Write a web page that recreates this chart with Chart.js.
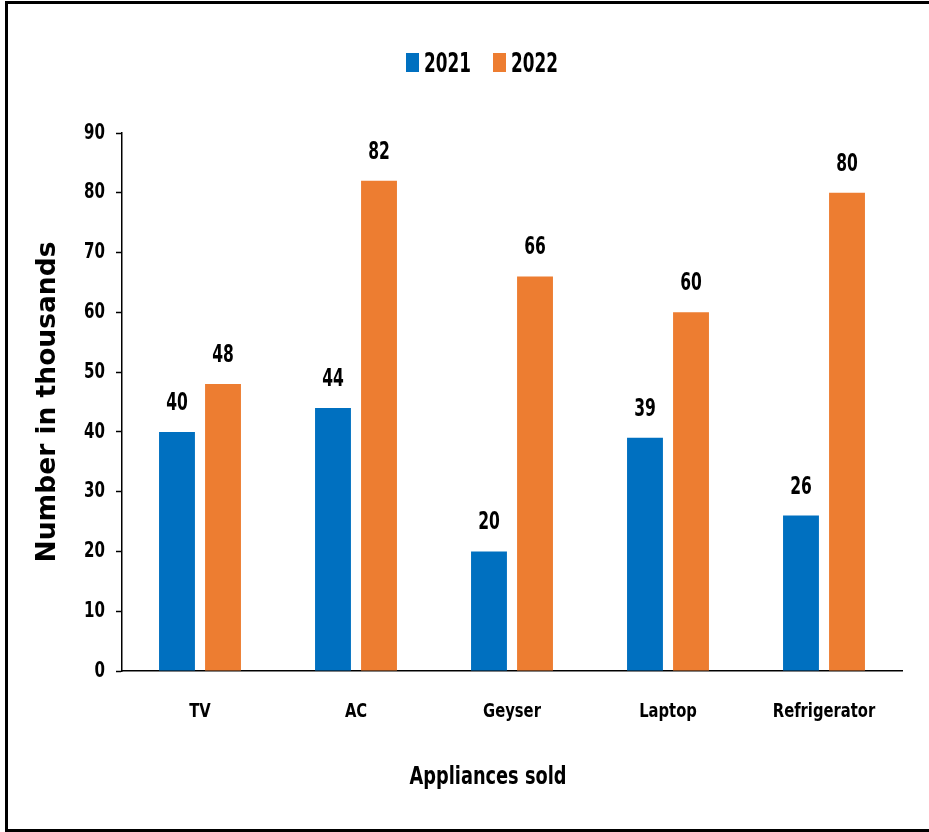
<!DOCTYPE html>
<html>
<head>
<meta charset="utf-8">
<script src="https://cdn.jsdelivr.net/npm/chart.js@4.4.0/dist/chart.umd.min.js"></script>
<style>
  html, body { margin: 0; padding: 0; background: #fff; }
  #wrap { position: absolute; left: 0; top: 0; width: 929px; height: 832px; }
  #frame { position: absolute; left: 5px; top: 1px; width: 940px; height: 825px; border: 3px solid #000; box-sizing: content-box; pointer-events: none; }
  canvas { position: absolute; left: 0; top: 0; }
</style>
</head>
<body>
<div id="wrap">
  <canvas id="c" width="929" height="832"></canvas>
  <div id="frame"></div>
</div>
<script>
const categories = ["TV", "AC", "Geyser", "Laptop", "Refrigerator"];
const seriesNames = ["2021", "2022"];
const values2021 = [40, 44, 20, 39, 26];
const values2022 = [48, 82, 66, 60, 80];
const yTicks = [0, 10, 20, 30, 40, 50, 60, 70, 80, 90];
const xTitle = "Appliances sold";
const yTitle = "Number in thousands";

const NARROW = "'Liberation Sans Narrow', 'DejaVu Sans Condensed', 'Arial Narrow', sans-serif";
const BLUE = "#0070C0";
const ORANGE = "#ED7D31";

// draw horizontally condensed text (Calibri-like look)
function condText(ctx, text, x, y, size, align, sx, baseline) {
  ctx.save();
  ctx.translate(x, y);
  ctx.scale(sx, 1);
  ctx.font = "bold " + size + "px " + NARROW;
  ctx.fillStyle = "#000";
  ctx.textAlign = align;
  ctx.textBaseline = baseline || "alphabetic";
  ctx.fillText(text, 0, 0);
  ctx.restore();
}

const textPlugin = {
  id: 'textPlugin',
  afterDraw(chart) {
    const ctx = chart.ctx;
    const xs = chart.scales.x, ys = chart.scales.y;
    // y tick labels
    yTicks.forEach(v => {
      condText(ctx, String(v), 105, ys.getPixelForValue(v), 22, 'right', 0.76, 'middle');
    });
    // x category labels
    categories.forEach((c, i) => {
      condText(ctx, c, xs.getPixelForValue(i), 717, 20, 'center', 0.82);
    });
    // x title
    condText(ctx, xTitle, 488, 784, 25, 'center', 0.79);
    // data labels
    chart.data.datasets.forEach((ds, i) => {
      chart.getDatasetMeta(i).data.forEach((bar, j) => {
        condText(ctx, String(ds.data[j]), bar.x, bar.y - 22, 24, 'center', 0.72);
      });
    });
    // legend
    const colors = [BLUE, ORANGE];
    const starts = [406, 493];
    seriesNames.forEach((name, i) => {
      ctx.save();
      ctx.fillStyle = colors[i];
      ctx.fillRect(starts[i], 53, 13, 19);
      ctx.restore();
      condText(ctx, name, starts[i] + 18, 72, 26, 'left', 0.72);
    });
  }
};

new Chart(document.getElementById('c'), {
  type: 'bar',
  data: {
    labels: categories,
    datasets: [
      { label: seriesNames[0], data: values2021, backgroundColor: BLUE, categoryPercentage: 0.59, barPercentage: 0.78 },
      { label: seriesNames[1], data: values2022, backgroundColor: ORANGE, categoryPercentage: 0.59, barPercentage: 0.78 }
    ]
  },
  options: {
    responsive: false,
    animation: false,
    layout: { padding: { top: 133, left: 0, right: 27, bottom: 0 } },
    plugins: {
      legend: { display: false },
      tooltip: { enabled: false }
    },
    scales: {
      x: {
        grid: { display: false, drawTicks: false },
        border: { color: '#000', width: 1.5 },
        ticks: { display: false },
        afterFit(scale) { scale.height = 832 - 671; }
      },
      y: {
        min: 0, max: 90,
        afterBuildTicks(scale) { scale.ticks = yTicks.map(v => ({ value: v })); },
        grid: { drawOnChartArea: false, drawTicks: true, tickLength: 6, color: '#000', tickWidth: 1.5 },
        border: { color: '#000', width: 1.5 },
        ticks: { display: false },
        title: { display: true, text: yTitle, color: '#000', font: { family: "'DejaVu Sans', Verdana, sans-serif", size: 26.5, weight: 'bold' }, padding: { top: 32, bottom: 0 } },
        afterFit(scale) { scale.width = 122; }
      }
    }
  },
  plugins: [textPlugin]
});
</script>
</body>
</html>
